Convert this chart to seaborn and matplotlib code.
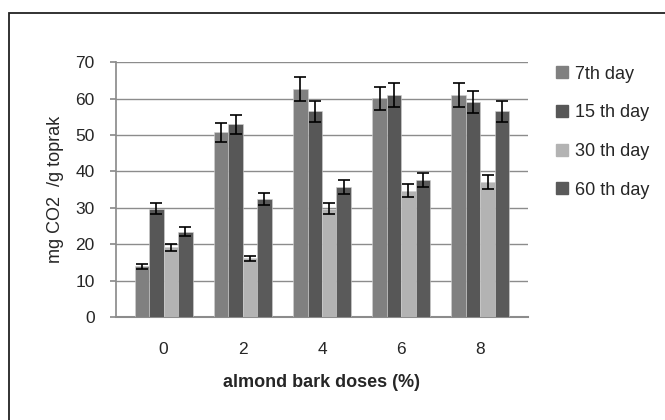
import pandas as pd
import numpy as np
import matplotlib
matplotlib.use("Agg")
import matplotlib.pyplot as plt
import matplotlib.patches as mpatches
import seaborn as sns

# data
doses = ["0", "2", "4", "6", "8"]
days = ["7th day", "15 th day", "30 th day", "60 th day"]
day7 = [14.0, 50.7, 62.6, 60.1, 61.0]
day15 = [29.8, 52.9, 56.5, 61.0, 59.0]
day30 = [19.2, 16.1, 29.8, 34.7, 37.2]
day60 = [23.5, 32.4, 35.8, 37.7, 56.5]
err7 = [0.7, 2.7, 3.2, 3.1, 3.2]
err15 = [1.5, 2.7, 2.9, 3.2, 3.0]
err30 = [1.0, 0.8, 1.5, 1.8, 1.9]
err60 = [1.2, 1.7, 1.9, 1.9, 2.8]

colors = ["#808080", "#575757", "#b3b3b3", "#5a5a5a"]

rows = []
for day, vals, errs in zip(days, [day7, day15, day30, day60], [err7, err15, err30, err60]):
    for d, v, e in zip(doses, vals, errs):
        rows.append({"dose": d, "day": day, "value": v, "err": e})
df = pd.DataFrame(rows)

sns.set_theme(style="white")
plt.rcParams['font.family'] = ['Liberation Sans', 'DejaVu Sans']

fig = plt.figure(figsize=(6.65, 4.2), dpi=100)
ax = fig.add_axes([0.1744, 0.245, 0.794 - 0.1744, 0.852 - 0.245])

sns.barplot(data=df, x="dose", y="value", hue="day", order=doses, hue_order=days,
            palette=colors, errorbar=None, width=0.73, saturation=1,
            edgecolor="#d0d0d0", linewidth=0.4, ax=ax, zorder=3)

# error bars at bar centres
for container, day in zip(ax.containers, days):
    sub = df[df["day"] == day].set_index("dose").loc[doses]
    xs = [p.get_x() + p.get_width() / 2 for p in container.patches]
    ax.errorbar(xs, sub["value"], yerr=sub["err"], fmt="none", ecolor="black",
                elinewidth=1.2, capsize=4.3, capthick=1.2, zorder=4)

ax.set_ylim(0, 70)
ax.set_yticks(range(0, 71, 10))
ax.yaxis.grid(True, color="#8c8c8c", linewidth=1.0, zorder=0)
ax.set_axisbelow(True)
for s in ["top", "right"]:
    ax.spines[s].set_visible(False)
ax.spines["left"].set_color("#8c8c8c")
ax.spines["bottom"].set_color("#8c8c8c")
ax.spines["bottom"].set_linewidth(1.5)
ax.tick_params(axis="y", left=True, length=4.3, color="#8c8c8c", labelsize=12.5, pad=11)
ax.tick_params(axis="x", bottom=False, labelsize=12.5, pad=12)

ax.set_ylabel("mg CO2  /g toprak", fontsize=13, labelpad=8)
ax.set_xlabel("almond bark doses (%)", fontsize=13, fontweight="bold", labelpad=12)

handles = [mpatches.Patch(color=c, label=l) for c, l in zip(colors, days)]
ax.legend(handles=handles, loc="upper left", bbox_to_anchor=(1.05, 1.015),
          frameon=False, fontsize=13, handlelength=0.65, handleheight=0.65,
          handletextpad=0.4, labelspacing=1.2, borderaxespad=0)

# outer chart frame
fig.patches.append(mpatches.Rectangle((9 / 665, -0.1), 1.2, 1.1 - 13 / 420,
                                      transform=fig.transFigure, fill=False,
                                      edgecolor="#222222", linewidth=1.3))

fig.savefig("out.png", dpi=100)
